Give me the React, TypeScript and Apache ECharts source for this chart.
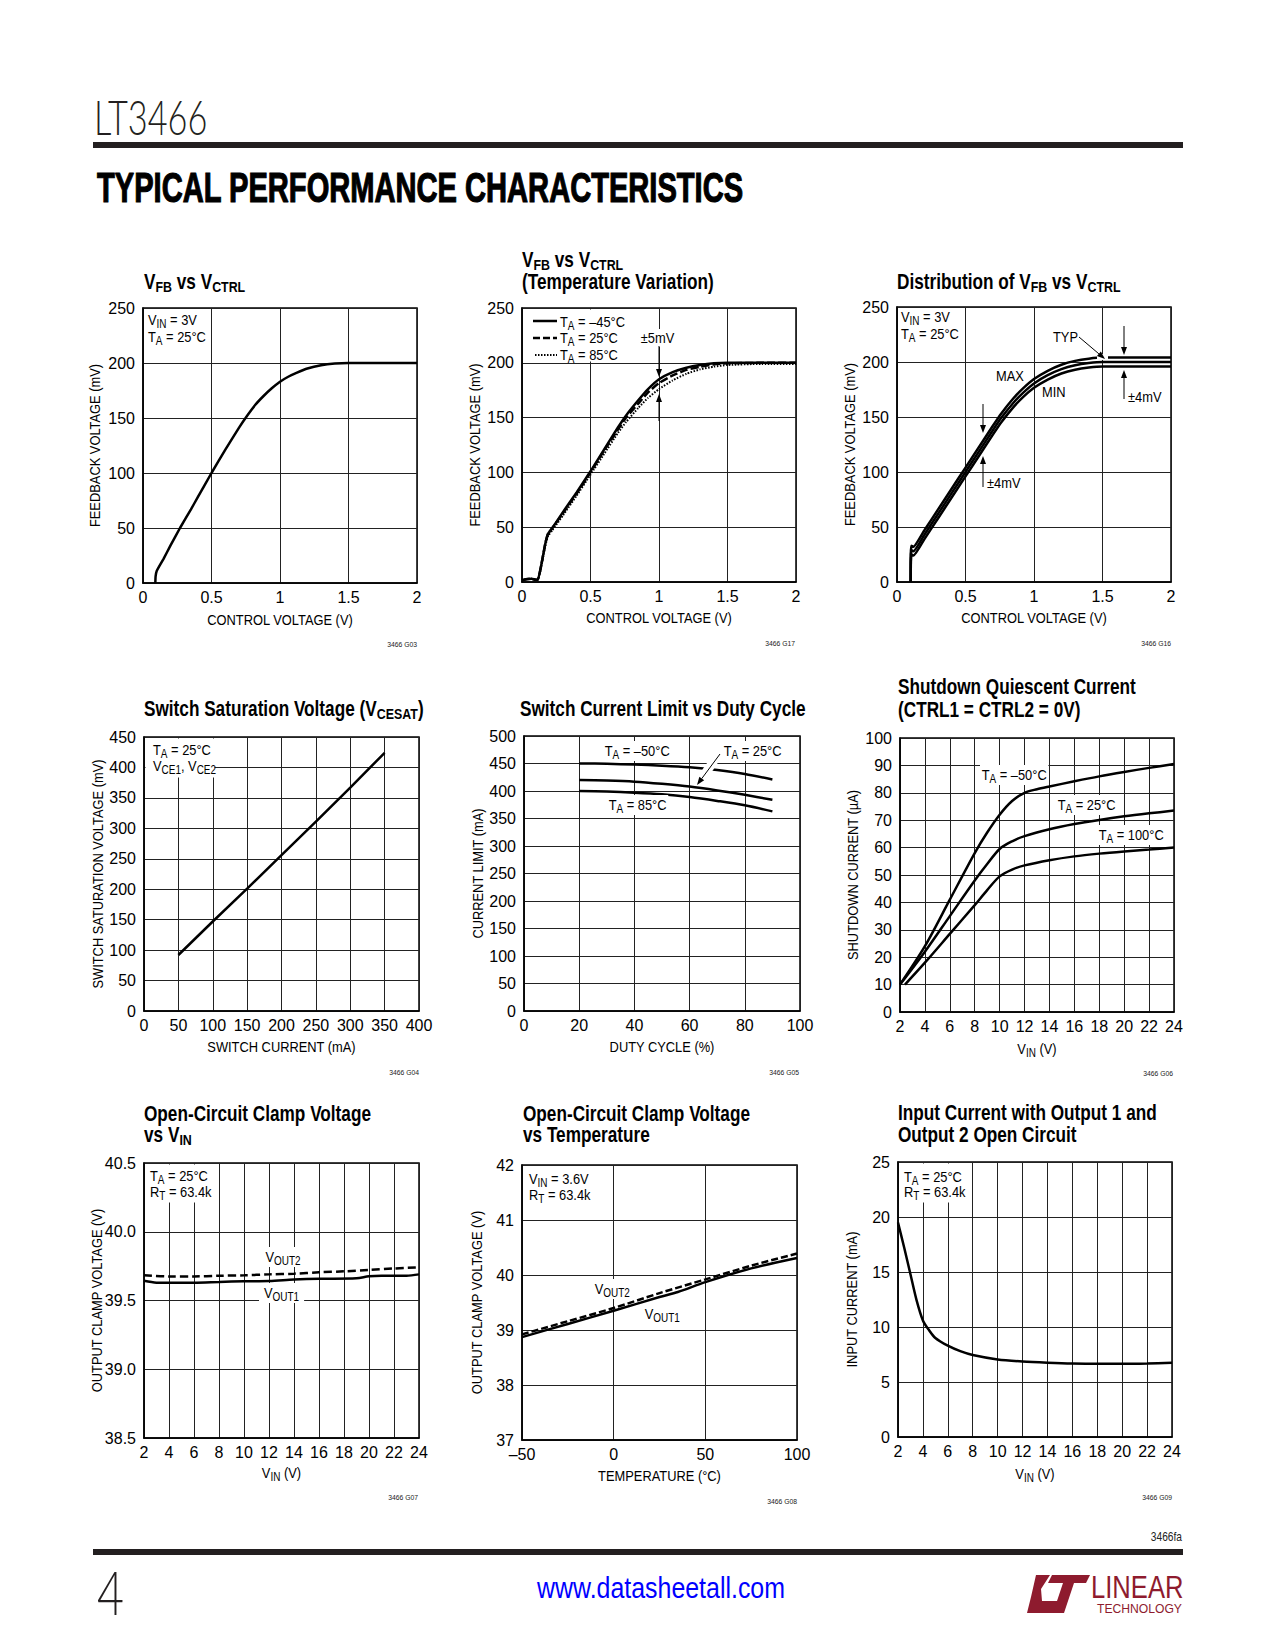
import React, { useEffect, useRef } from "react";
import * as echarts from "echarts";

const FONT = "'Liberation Sans Narrow', 'Arial Narrow', 'Liberation Sans', sans-serif";

// ---------- DATA ----------
// Chart 1: VFB vs VCTRL (x: V, y: mV)
const c1Curve = [[0.09, 0], [0.092, 6], [0.1, 11], [0.15, 22], [0.2, 34], [0.27, 50], [0.35, 67], [0.4, 78], [0.5, 100], [0.6, 121], [0.7, 141], [0.76, 152], [0.82, 162], [0.88, 170], [0.94, 177], [1.0, 183], [1.06, 187.5], [1.12, 191], [1.2, 195], [1.3, 198], [1.4, 199.5], [1.5, 200], [1.75, 200], [2.0, 200]];

// Chart 2: temperature variation
const c2TaM45 = [[0, 1.5], [0.03, 2.5], [0.07, 3], [0.1, 2], [0.115, 2], [0.14, 15], [0.17, 35], [0.19, 44], [0.22, 49], [0.3, 64], [0.4, 82], [0.5, 101], [0.6, 121], [0.7, 141], [0.76, 152], [0.85, 166], [0.92, 176], [1.0, 185], [1.1, 191.5], [1.2, 195.5], [1.3, 198], [1.4, 199.5], [1.5, 200], [1.75, 200], [2.0, 200]];
const c2Ta25 = [[0, 1.5], [0.03, 2.5], [0.07, 3], [0.1, 2], [0.115, 2], [0.14, 15], [0.17, 35], [0.19, 44], [0.22, 49], [0.3, 63], [0.4, 81], [0.5, 100], [0.6, 120], [0.7, 139], [0.76, 150], [0.85, 163], [0.92, 173], [1.0, 181.5], [1.1, 188.5], [1.2, 193.5], [1.3, 196.5], [1.4, 198.5], [1.5, 199.5], [1.75, 200], [2.0, 200]];
const c2Ta85 = [[0, 1.5], [0.03, 2.5], [0.07, 3], [0.1, 2], [0.115, 2], [0.14, 14], [0.17, 33], [0.19, 42], [0.22, 47], [0.3, 61], [0.4, 79], [0.5, 98], [0.6, 117], [0.7, 136], [0.76, 146], [0.85, 159], [0.92, 168], [1.0, 176], [1.1, 184], [1.2, 190], [1.3, 194], [1.4, 196.5], [1.5, 198], [1.75, 199], [2.0, 199]];

// Chart 3: distribution
const c3Max = [[0.1, 0], [0.101, 26], [0.105, 33], [0.12, 32], [0.2, 47], [0.3, 66], [0.4, 85], [0.5, 104], [0.6, 123], [0.7, 142], [0.76, 153], [0.85, 167], [0.92, 176], [1.0, 184.5], [1.1, 192], [1.2, 197.5], [1.3, 201], [1.4, 203], [1.5, 204], [1.75, 204], [2.0, 204]];
const c3Typ = [[0.1, 0], [0.101, 22], [0.105, 29], [0.12, 28], [0.2, 43], [0.3, 62], [0.4, 81], [0.5, 100], [0.6, 119], [0.7, 138], [0.76, 149], [0.85, 163], [0.92, 172], [1.0, 180.5], [1.1, 188], [1.2, 193.5], [1.3, 197], [1.4, 199], [1.5, 200], [1.75, 200], [2.0, 200]];
const c3Min = [[0.1, 0], [0.101, 18], [0.105, 25], [0.12, 24], [0.2, 39], [0.3, 58], [0.4, 77], [0.5, 96], [0.6, 115], [0.7, 134], [0.76, 145], [0.85, 159], [0.92, 168], [1.0, 176.5], [1.1, 184], [1.2, 189.5], [1.3, 193], [1.4, 195], [1.5, 196], [1.75, 196], [2.0, 196]];

// Chart 4: VCESAT
const c4Vce = [[50, 92], [100, 147], [150, 201], [200, 256], [250, 311], [300, 367], [350, 424]];

// Chart 5: current limit vs duty cycle
const c5TaM50 = [[20, 450], [30, 449.5], [40, 448], [50, 446], [60, 443], [70, 438], [80, 431], [90, 421]];
const c5Ta25 = [[20, 420], [30, 419], [40, 417], [50, 413], [60, 408], [70, 401], [80, 393], [90, 384]];
const c5Ta85 = [[20, 400], [30, 399], [40, 397], [50, 394], [60, 389], [70, 382], [80, 374], [90, 363]];

// Chart 6: shutdown quiescent current
const c6TaM50 = [[2, 10], [4, 24], [6, 41], [8, 58], [9, 65.5], [10, 72], [11, 77], [12, 80], [13, 81.3], [14, 82.3], [16, 84.2], [18, 86], [20, 87.6], [22, 89.1], [24, 90.5]];
const c6Ta25 = [[2, 10], [4, 22], [6, 35], [8, 48], [9, 54], [10, 59.5], [11, 62.3], [12, 64.2], [14, 66.7], [16, 68.6], [18, 70.1], [20, 71.4], [22, 72.5], [24, 73.5]];
const c6Ta100 = [[2.4, 10], [4, 18], [6, 28.5], [8, 39], [9, 44.5], [10, 49.5], [11, 52], [12, 53.5], [14, 55.4], [16, 56.8], [18, 57.8], [20, 58.6], [22, 59.3], [24, 60]];

// Chart 7: clamp voltage vs VIN
const c7Vout2 = [[2, 39.684], [4, 39.675], [6, 39.675], [8, 39.68], [10, 39.683], [12, 39.69], [14, 39.695], [16, 39.705], [18, 39.712], [20, 39.722], [22, 39.733], [24, 39.742]];
const c7Vout1 = [[2, 39.643], [3, 39.63], [6, 39.63], [8, 39.635], [10, 39.64], [12, 39.642], [14, 39.652], [16, 39.658], [19, 39.662], [20, 39.676], [21, 39.68], [23, 39.68], [24, 39.69]];

// Chart 8: clamp voltage vs temperature
const c8Vout2 = [[-50, 38.92], [-25, 39.16], [0, 39.4], [25, 39.67], [50, 39.92], [75, 40.17], [100, 40.39]];
const c8Vout1 = [[-50, 38.87], [-25, 39.11], [0, 39.35], [25, 39.6], [35, 39.69], [50, 39.87], [75, 40.12], [100, 40.31]];

// Chart 9: input current
const c9Iin = [[2, 19.5], [2.5, 17.2], [3, 14.8], [3.5, 12.4], [4, 10.6], [4.5, 9.7], [5, 9.0], [6, 8.3], [7, 7.8], [8, 7.45], [10, 7.05], [12, 6.87], [14, 6.76], [16, 6.68], [18, 6.65], [20, 6.65], [22, 6.68], [24, 6.74]];

// axis titles
const xNames = ["CONTROL VOLTAGE (V)", "CONTROL VOLTAGE (V)", "CONTROL VOLTAGE (V)", "SWITCH CURRENT (mA)", "DUTY CYCLE (%)", "V_{IN} (V)", "V_{IN} (V)", "TEMPERATURE (°C)", "V_{IN} (V)"];
const yNames = ["FEEDBACK VOLTAGE (mV)", "FEEDBACK VOLTAGE (mV)", "FEEDBACK VOLTAGE (mV)", "SWITCH SATURATION VOLTAGE (mV)", "CURRENT LIMIT (mA)", "SHUTDOWN CURRENT (\u00B5A)", "OUTPUT CLAMP VOLTAGE (V)", "OUTPUT CLAMP VOLTAGE (V)", "INPUT CURRENT (mA)"];

// ---------- HELPERS ----------
function mk(str: string): string {
  let out = "";
  const re = /_\{([^}]*)\}/g;
  let last = 0;
  let m: RegExpExecArray | null;
  while ((m = re.exec(str))) {
    if (m.index > last) out += `{n|${str.slice(last, m.index)}}`;
    out += `{s|${m[1]}}`;
    last = re.lastIndex;
  }
  if (last < str.length) out += `{n|${str.slice(last)}}`;
  return out;
}

const ANN = {
  n: { fontFamily: FONT, fontSize: 15.5, color: "#000" },
  s: { fontFamily: FONT, fontSize: 12, color: "#000", padding: [8, 0, 0, 0] },
};
const TTL = {
  n: { fontFamily: FONT, fontSize: 21.5, fontWeight: "bold", color: "#111" },
  s: { fontFamily: FONT, fontSize: 15.5, fontWeight: "bold", color: "#111", padding: [10, 0, 0, 0] },
};
const AXN = {
  n: { fontFamily: FONT, fontSize: 15.5, color: "#000" },
  s: { fontFamily: FONT, fontSize: 12, color: "#000", padding: [7, 0, 0, 0] },
};

const GRIDS = [
  { left: 143, top: 308, width: 274, height: 275 },
  { left: 522, top: 308, width: 274, height: 274 },
  { left: 897, top: 307, width: 274, height: 275 },
  { left: 144, top: 737, width: 275, height: 274 },
  { left: 524, top: 736, width: 276, height: 275 },
  { left: 900, top: 738, width: 274, height: 274 },
  { left: 144, top: 1163, width: 275, height: 275 },
  { left: 522, top: 1165, width: 275, height: 275 },
  { left: 898, top: 1162, width: 274, height: 275 },
];
// axis-title anchor positions (centre of text)
const yNameX = [95, 475, 850, 98, 478, 853, 97, 477, 852];
const xNameY = [620, 618, 618, 1047, 1047, 1049, 1473, 1476, 1474];

function xA(gi: number, min: number, max: number, interval: number, fmt?: (v: number) => string) {
  return {
    type: "value", gridIndex: gi, min, max, interval,
    axisLine: { show: true, onZero: false, lineStyle: { color: "#000", width: 1.5 } },
    axisTick: { show: false },
    axisLabel: { fontFamily: FONT, fontSize: 16, color: "#000", margin: 6, formatter: fmt, showMinLabel: true, showMaxLabel: true },
    splitLine: { show: true, lineStyle: { color: "#222", width: 1 } },
  };
}
function yA(gi: number, min: number, max: number, interval: number, fmt?: (v: number) => string) {
  return {
    type: "value", gridIndex: gi, min, max, interval,
    axisLine: { show: true, onZero: false, lineStyle: { color: "#000", width: 1.5 } },
    axisTick: { show: false },
    axisLabel: { fontFamily: FONT, fontSize: 16, color: "#000", margin: 8, formatter: fmt, showMinLabel: true, showMaxLabel: true },
    splitLine: { show: true, lineStyle: { color: "#222", width: 1 } },
  };
}

function ln(gi: number, data: number[][], opts: any = {}) {
  return {
    type: "line", xAxisIndex: gi, yAxisIndex: gi, data,
    showSymbol: false, symbol: "none", silent: true, z: 3,
    smooth: opts.smooth ?? 0.15,
    lineStyle: { color: "#000", width: opts.width ?? 2.5, type: opts.type ?? "solid" },
  };
}

function txt(x: number, y: number, s: string, o: any = {}) {
  return {
    type: "text", x, y, z: 100, scaleX: o.sx ?? 0.83, rotation: o.rot ?? 0,
    style: {
      text: mk(s), rich: o.rich || ANN, align: o.align || "left", verticalAlign: "middle",
      backgroundColor: o.bg, padding: o.pad,
    },
  };
}
function wrect(x: number, y: number, w: number, h: number) {
  return { type: "rect", z: 90, shape: { x, y, width: w, height: h }, style: { fill: "#fff" } };
}
function arrow(x1: number, y1: number, x2: number, y2: number, head = 8, hw = 3) {
  const dx = x2 - x1, dy = y2 - y1, L = Math.hypot(dx, dy), ux = dx / L, uy = dy / L;
  const bx = x2 - ux * head, by = y2 - uy * head;
  return [
    { type: "line", z: 100, shape: { x1, y1, x2: bx, y2: by }, style: { stroke: "#000", lineWidth: 1 } },
    { type: "polygon", z: 100, shape: { points: [[x2, y2], [bx - uy * hw, by + ux * hw], [bx + uy * hw, by - ux * hw]] }, style: { fill: "#000" } },
  ];
}
function code(x: number, y: number, s: string) {
  return { type: "text", x, y, z: 100, scaleX: 0.85, style: { text: s, fontFamily: "'Liberation Sans', sans-serif", fontSize: 8, fill: "#222", align: "right", verticalAlign: "middle" } };
}
function ttl(x: number, y: number, s: string) {
  return txt(x, y, s, { rich: TTL, sx: 0.8 });
}

const RED = "#8e1b2e";

export default function App() {
  const ref = useRef<HTMLDivElement>(null);
  useEffect(() => {
    if (!ref.current) return;
    const chart = echarts.init(ref.current, undefined, { renderer: "svg" });
    const fmt1 = (v: number) => v.toFixed(1);
    const fmtT = (v: number) => (v < 0 ? "\u2013" + Math.abs(v) : String(v));

    const axisTitles: any[] = [];
    GRIDS.forEach((g, i) => {
      axisTitles.push(txt(g.left + g.width / 2, xNameY[i], xNames[i], { rich: AXN, align: "center", sx: 0.83 }));
      axisTitles.push(txt(yNameX[i], g.top + g.height / 2, yNames[i], { rich: AXN, align: "center", sx: 0.83, rot: Math.PI / 2 }));
    });

    const graphic: any[] = [
      // page header
      { type: "text", x: 94, y: 117, scaleX: 0.73, z: 100, style: { text: "LT3466", fontFamily: "Lato, 'DejaVu Sans', sans-serif", fontWeight: 300, fontSize: 47, fill: "#231f20", verticalAlign: "middle" } },
      { type: "rect", z: 100, shape: { x: 93, y: 142, width: 1090, height: 6 }, style: { fill: "#231f20" } },
      { type: "text", x: 97, y: 187, scaleX: 0.677, z: 100, style: { text: "TYPICAL PERFORMANCE CHARACTERISTICS", fontFamily: FONT, fontWeight: "bold", fontSize: 43, fill: "#000", stroke: "#000", lineWidth: 1.2, verticalAlign: "middle" } },
      // footer
      { type: "text", x: 1182, y: 1537, z: 100, scaleX: 0.85, style: { text: "3466fa", fontFamily: FONT, fontSize: 12, fill: "#222", align: "right", verticalAlign: "middle" } },
      { type: "rect", z: 100, shape: { x: 93, y: 1549, width: 1090, height: 6 }, style: { fill: "#231f20" } },
      { type: "text", x: 97, y: 1591, scaleX: 0.75, z: 100, style: { text: "4", fontFamily: "Lato, 'DejaVu Sans', sans-serif", fontWeight: 300, fontSize: 62, fill: "#231f20", verticalAlign: "middle" } },
      { type: "text", x: 661, y: 1588, z: 100, scaleX: 0.86, style: { text: "www.datasheetall.com", fontFamily: FONT, fontSize: 29, fill: "#0000ff", align: "center", verticalAlign: "middle" } },
      { type: "polygon", z: 100, shape: { points: [[1036, 1575], [1050, 1575], [1041, 1589], [1042, 1601], [1058, 1601], [1054, 1613], [1027, 1613], [1031, 1597]] }, style: { fill: RED } },
      { type: "polygon", z: 100, shape: { points: [[1052, 1575], [1090, 1575], [1086, 1583], [1074, 1583], [1064, 1613], [1053, 1613], [1063, 1583], [1048, 1583]] }, style: { fill: RED } },
      { type: "text", x: 1091, y: 1587, scaleX: 0.8, z: 100, style: { text: "LINEAR", fontFamily: FONT, fontSize: 32, fill: RED, verticalAlign: "middle" } },
      { type: "text", x: 1097, y: 1608, z: 100, scaleX: 0.9, style: { text: "TECHNOLOGY", fontFamily: FONT, fontSize: 13.5, fill: RED, verticalAlign: "middle" } },

      // titles
      ttl(144, 281, "V_{FB} vs V_{CTRL}"),
      ttl(522, 259, "V_{FB} vs V_{CTRL}"), ttl(522, 281, "(Temperature Variation)"),
      ttl(897, 281, "Distribution of V_{FB} vs V_{CTRL}"),
      ttl(144, 708, "Switch Saturation Voltage (V_{CESAT})"),
      ttl(520, 708, "Switch Current Limit vs Duty Cycle"),
      ttl(898, 686, "Shutdown Quiescent Current"), ttl(898, 709, "(CTRL1 = CTRL2 = 0V)"),
      ttl(144, 1113, "Open-Circuit Clamp Voltage"), ttl(144, 1134, "vs V_{IN}"),
      ttl(523, 1113, "Open-Circuit Clamp Voltage"), ttl(523, 1134, "vs Temperature"),
      ttl(898, 1112, "Input Current with Output 1 and"), ttl(898, 1134, "Output 2 Open Circuit"),

      ...axisTitles,

      // figure codes
      code(417, 644, "3466 G03"), code(795, 643, "3466 G17"), code(1171, 643, "3466 G16"),
      code(419, 1072, "3466 G04"), code(799, 1072, "3466 G05"), code(1173, 1073, "3466 G06"),
      code(418, 1497, "3466 G07"), code(797, 1501, "3466 G08"), code(1172, 1497, "3466 G09"),

      // chart 1
      txt(148, 320, "V_{IN} = 3V"), txt(148, 337, "T_{A} = 25°C"),

      // chart 2 legend
      wrect(523.5, 309.5, 106, 52),
      { type: "line", z: 100, shape: { x1: 533, y1: 321, x2: 557, y2: 321 }, style: { stroke: "#000", lineWidth: 2.5 } },
      { type: "line", z: 100, shape: { x1: 533, y1: 338, x2: 557, y2: 338 }, style: { stroke: "#000", lineWidth: 2.5, lineDash: [7, 3] } },
      { type: "line", z: 100, shape: { x1: 535, y1: 355, x2: 557, y2: 355 }, style: { stroke: "#000", lineWidth: 2, lineDash: [1.5, 1.5] } },
      txt(560, 322, "T_{A} = \u201345°C"), txt(560, 338, "T_{A} = 25°C"), txt(560, 355, "T_{A} = 85°C"),
      txt(640, 338, "\u00B15mV", { bg: "#fff", pad: [1, 1] }),
      ...arrow(659, 346, 659, 377), ...arrow(659, 421, 659, 394),

      // chart 3
      txt(901, 317, "V_{IN} = 3V"), txt(901, 334, "T_{A} = 25°C"),
      txt(1053, 337, "TYP"), txt(996, 376, "MAX"), txt(1042, 392, "MIN"),
      txt(987, 483, "\u00B14mV"), txt(1128, 397, "\u00B14mV"),
      wrect(1097, 354, 11, 6),
      ...arrow(1079, 337, 1105, 359), ...arrow(983, 404, 983, 433), ...arrow(983, 487, 983, 456),
      ...arrow(1124, 326, 1124, 355), ...arrow(1124, 399, 1124, 370),

      // chart 4
      wrect(145.5, 738.5, 69, 39),
      txt(153, 750, "T_{A} = 25°C"), txt(153, 766, "V_{CE1}, V_{CE2}"),

      // chart 5
      txt(603, 751, "T_{A} = \u201350°C", { bg: "#fff", pad: [0, 2] }),
      txt(722, 751, "T_{A} = 25°C", { bg: "#fff", pad: [0, 2] }),
      { type: "line", z: 95, shape: { x1: 714, y1: 761, x2: 704, y2: 775 }, style: { stroke: "#fff", lineWidth: 9 } },
      ...arrow(720, 754, 697, 785),
      txt(607, 805, "T_{A} = 85°C", { bg: "#fff", pad: [0, 2] }),

      // chart 6
      txt(980, 775, "T_{A} = \u201350°C", { bg: "#fff", pad: [0, 2] }),
      txt(1056, 805, "T_{A} = 25°C", { bg: "#fff", pad: [0, 2] }),
      txt(1097, 835, "T_{A} = 100°C", { bg: "#fff", pad: [0, 2] }),

      // chart 7
      wrect(145.5, 1164.5, 68, 38),
      txt(150, 1176, "T_{A} = 25°C"), txt(150, 1192, "R_{T} = 63.4k"),
      txt(263, 1257, "V_{OUT2}", { bg: "#fff", pad: [0, 3] }),
      txt(259, 1293, "V_{OUT1}", { bg: "#fff", pad: [0, 6] }),

      // chart 8
      txt(529, 1179, "V_{IN} = 3.6V"), txt(529, 1195, "R_{T} = 63.4k"),
      txt(593, 1289, "V_{OUT2}", { bg: "#fff", pad: [0, 2] }),
      txt(643, 1314, "V_{OUT1}", { bg: "#fff", pad: [0, 2] }),

      // chart 9
      wrect(899.5, 1163.5, 68, 39),
      txt(904, 1177, "T_{A} = 25°C"), txt(904, 1192, "R_{T} = 63.4k"),
    ];

    const option: any = {
      animation: false,
      backgroundColor: "#fff",
      grid: GRIDS.map((g) => ({ ...g, show: true, borderColor: "#000", borderWidth: 1.5, backgroundColor: "#fff", containLabel: false })),
      xAxis: [
        xA(0, 0, 2, 0.5),
        xA(1, 0, 2, 0.5),
        xA(2, 0, 2, 0.5),
        xA(3, 0, 400, 50),
        xA(4, 0, 100, 20),
        xA(5, 2, 24, 2),
        xA(6, 2, 24, 2),
        xA(7, -50, 100, 50, fmtT),
        xA(8, 2, 24, 2),
      ],
      yAxis: [
        yA(0, 0, 250, 50),
        yA(1, 0, 250, 50),
        yA(2, 0, 250, 50),
        yA(3, 0, 450, 50),
        yA(4, 0, 500, 50),
        yA(5, 0, 100, 10),
        yA(6, 38.5, 40.5, 0.5, fmt1),
        yA(7, 37, 42, 1),
        yA(8, 0, 25, 5),
      ],
      series: [
        ln(0, c1Curve),
        ln(1, c2Ta85, { type: [1.5, 1.5], width: 2 }),
        ln(1, c2Ta25, { type: [8, 3] }),
        ln(1, c2TaM45),
        ln(2, c3Max), ln(2, c3Typ), ln(2, c3Min),
        ln(3, c4Vce, { smooth: false }),
        ln(4, c5TaM50, { smooth: 0.3 }), ln(4, c5Ta25, { smooth: 0.3 }), ln(4, c5Ta85, { smooth: 0.3 }),
        ln(5, c6TaM50, { smooth: 0.3 }), ln(5, c6Ta25, { smooth: 0.3 }), ln(5, c6Ta100, { smooth: 0.3 }),
        ln(6, c7Vout2, { type: [8, 4], smooth: 0.3 }), ln(6, c7Vout1, { smooth: 0.3 }),
        ln(7, c8Vout2, { type: [7, 3], smooth: 0.3 }), ln(7, c8Vout1, { smooth: 0.3 }),
        ln(8, c9Iin, { smooth: 0.3 }),
      ],
      graphic,
    };
    chart.setOption(option);
    return () => chart.dispose();
  }, []);
  return <div ref={ref} style={{ position: "absolute", left: 0, top: 0, width: 1275, height: 1650, background: "#fff" }} />;
}
